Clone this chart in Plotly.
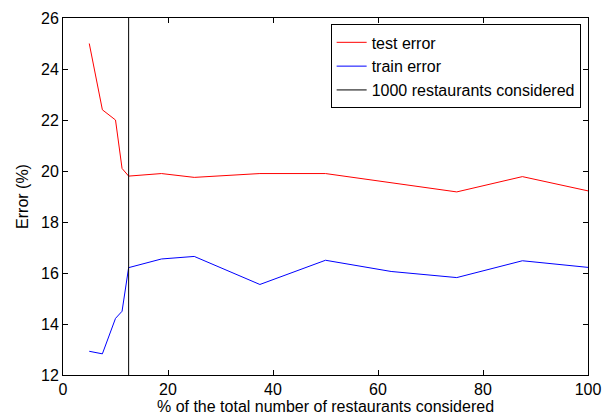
import plotly.graph_objects as go

x_pct = [5, 7.5, 10, 11.25, 12.5, 18.75, 25, 37.5, 50, 62.5, 75, 87.5, 100]
test_error = [25.0, 22.4, 22.0, 20.1, 19.8, 19.9, 19.75, 19.9, 19.9, 19.55, 19.18, 19.78, 19.22]
train_error = [12.93, 12.83, 14.22, 14.5, 16.21, 16.55, 16.65, 15.55, 16.5, 16.06, 15.82, 16.48, 16.22]
cut_x = [12.5, 12.5]
cut_y = [12, 26]

fig = go.Figure()
fig.add_trace(go.Scatter(x=x_pct, y=test_error, mode="lines", name="test error",
                         line=dict(color="#ff0000", width=1)))
fig.add_trace(go.Scatter(x=x_pct, y=train_error, mode="lines", name="train error",
                         line=dict(color="#0000ff", width=1)))
fig.add_trace(go.Scatter(x=cut_x, y=cut_y, mode="lines", name="1000 restaurants considered",
                         line=dict(color="#000000", width=1)))

axis_common = dict(showgrid=False, zeroline=False, showline=True, linecolor="black",
                   linewidth=1, mirror="allticks", ticks="inside", ticklen=5,
                   tickcolor="black", tickfont=dict(size=16, color="black"))
fig.update_xaxes(range=[0, 100], tickvals=[0, 20, 40, 60, 80, 100],
                 title=dict(text="% of the total number of restaurants considered",
                            font=dict(size=16, color="black"), standoff=0),
                 **axis_common)
fig.update_yaxes(range=[12, 26], tickvals=[12, 14, 16, 18, 20, 22, 24, 26],
                 title=dict(text="Error (%)", font=dict(size=16, color="black"), standoff=8),
                 **axis_common)

fig.update_layout(
    width=611, height=419,
    margin=dict(l=63, r=22, t=10, b=40),
    plot_bgcolor="white", paper_bgcolor="white",
    font=dict(family="Liberation Sans, Arial, sans-serif", size=16, color="black"),
    showlegend=True,
    legend=dict(x=0.986, y=0.982, xanchor="right", yanchor="top",
                bordercolor="black", borderwidth=1, bgcolor="white",
                font=dict(size=16), tracegroupgap=0, itemwidth=30),
)

fig.write_html("out.html")
